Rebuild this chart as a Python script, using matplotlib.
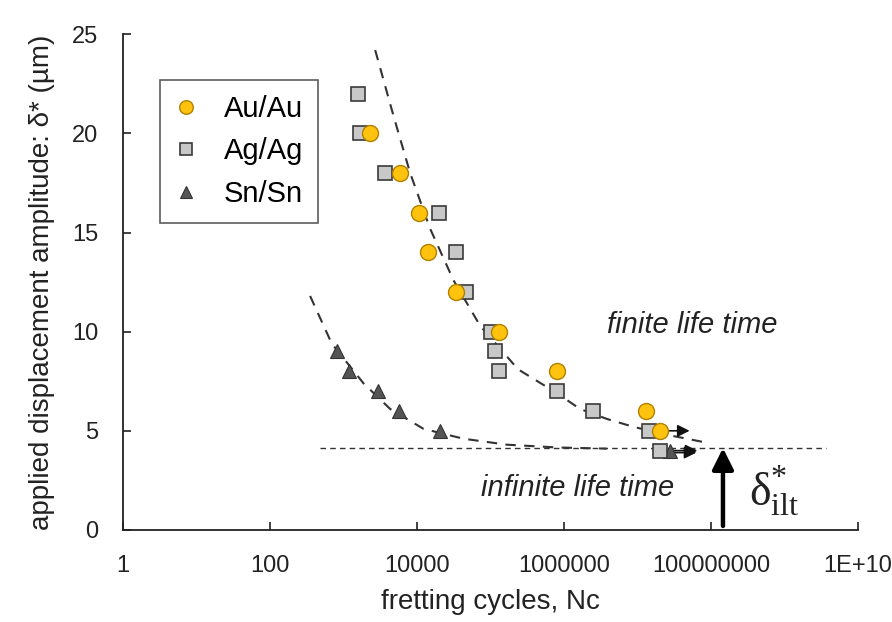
import matplotlib
matplotlib.use("Agg")
import matplotlib.pyplot as plt

plt.rcParams['font.family'] = ['Liberation Sans', 'DejaVu Sans']

# measured points (fretting cycles, amplitude in um)
au_n = [2290, 5890, 10500, 14100, 33900, 132000, 794000, 1.32e7, 2.04e7]
au_d = [20, 18, 16, 14, 12, 10, 8, 6, 5]

ag_n = [1550, 1660, 3630, 20000, 33900, 45700, 100000, 115000, 129000,
        794000, 2.51e6, 1.41e7, 2.0e7]
ag_d = [22, 20, 18, 16, 14, 12, 10, 9, 8, 7, 6, 5, 4]

sn_n = [813, 1175, 2950, 5620, 20400, 2.75e7]
sn_d = [9, 8, 7, 6, 5, 4]

# dashed trend lines
fit1_n = [2690, 4760, 8040, 15000, 31200, 71900, 236600, 796000,
          1.65e6, 3.81e6, 8.77e6, 2.5e7, 8.73e7]
fit1_d = [24.2, 20.9, 18.0, 15.2, 12.6, 10.3, 8.1, 6.9, 6.1, 5.6, 5.2, 4.8, 4.4]

fit2_n = [350, 690, 1860, 4300, 12200, 42700, 166000, 796000, 3.81e6]
fit2_d = [11.8, 9.4, 7.4, 6.1, 5.1, 4.6, 4.3, 4.16, 4.1]

limit_d = 4.13
limit_n = [480, 3.7e9]

# run-out arrows (no failure)
run_start = [2.04e7, 2.0e7, 2.75e7]
run_end = [5.1e7, 6.5e7, 6.3e7]
run_d = [5, 4, 3.9]

ilt_n = 1.45e8

xticks = [1, 100, 1e4, 1e6, 1e8, 1e10]
xlabels = ['1', '100', '10000', '1000000', '100000000', '1E+10']

fig = plt.figure(figsize=(8.92, 6.22), dpi=100)
ax = fig.add_axes([0.138, 0.148, 0.824, 0.797])

ax.plot(fit1_n, fit1_d, ls=(0, (5, 4)), color='#333333', lw=1.5, zorder=2)
ax.plot(fit2_n, fit2_d, ls=(0, (5, 4)), color='#333333', lw=1.5, zorder=2)
ax.plot(limit_n, [limit_d, limit_d], ls=(0, (4, 3)), color='#333333', lw=1.0, zorder=2)

for s, e, d in zip(run_start, run_end, run_d):
    ax.annotate('', xy=(e, d), xytext=(s, d),
                arrowprops=dict(arrowstyle='-|>', color='#111111', lw=1.2,
                                mutation_scale=18, shrinkA=0, shrinkB=0), zorder=2)

ax.plot(sn_n, sn_d, ls='none', marker='^', ms=10, mfc='#555555', mec='#333333',
        mew=0.8, label='Sn/Sn', zorder=3)
ax.plot(ag_n, ag_d, ls='none', marker='s', ms=9.5, mfc='#c8c8c8', mec='#3a3a3a',
        mew=1.2, label='Ag/Ag', zorder=4)
ax.plot(au_n, au_d, ls='none', marker='o', ms=11.5, mfc='#ffc20e', mec='#b08000',
        mew=1.0, label='Au/Au', zorder=5)

# big arrow marking the infinite life time threshold
ax.annotate('', xy=(ilt_n, limit_d), xytext=(ilt_n, 0.2),
            arrowprops=dict(arrowstyle='-|>', color='black', lw=3.2,
                            mutation_scale=32, shrinkA=0, shrinkB=0), zorder=6)
ax.text(3.3e8, 2.0, r'$\mathregular{\delta^{*}_{ilt}}$', fontsize=33,
        family='Liberation Serif', ha='left', va='center', color='#222222')

ax.text(5.5e7, 10.35, 'finite life time', fontsize=21, style='italic',
        ha='center', va='center', color='#222222')
ax.text(1.55e6, 2.12, 'infinite life time', fontsize=21, style='italic',
        ha='center', va='center', color='#222222')

ax.set_xscale('log')
ax.set_xlim(1, 1e10)
ax.set_ylim(0, 25)
ax.set_xticks(xticks)
ax.set_xticklabels(xlabels)
ax.minorticks_off()
ax.set_yticks([0, 5, 10, 15, 20, 25])
ax.tick_params(direction='in', length=6, width=1.2, labelsize=17,
               colors='#222222')
ax.tick_params(axis='y', pad=18)
ax.tick_params(axis='x', pad=18)
for sp in ['top', 'right']:
    ax.spines[sp].set_visible(False)
for sp in ['left', 'bottom']:
    ax.spines[sp].set_linewidth(1.3)
    ax.spines[sp].set_color('#222222')

ax.set_xlabel('fretting cycles, Nc', fontsize=20, color='#222222', labelpad=9)
ax.set_ylabel('applied displacement amplitude: δ* (µm)', fontsize=20,
              color='#222222', labelpad=12)

h, l = ax.get_legend_handles_labels()
leg = ax.legend(h[::-1], l[::-1], loc='upper left', bbox_to_anchor=(0.05, 0.907),
                borderaxespad=0, fontsize=21, frameon=True, fancybox=False,
                edgecolor='#333333', labelspacing=0.5, borderpad=0.5,
                handlelength=0.8, handletextpad=0.9, markerscale=0.85)
leg.get_frame().set_linewidth(1.2)

fig.savefig('out.png', dpi=100)
